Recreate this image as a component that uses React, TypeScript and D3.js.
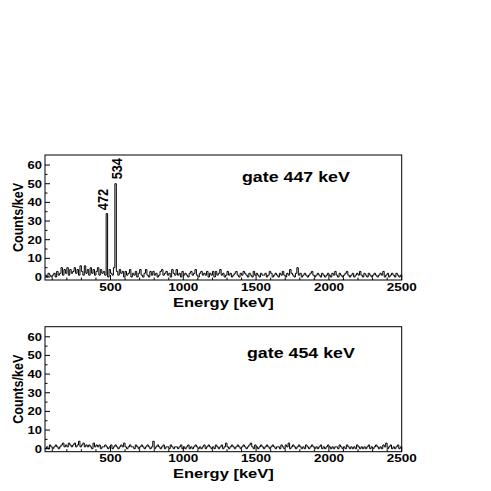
import React, { useEffect, useRef } from "react";
import * as d3 from "d3";

// gamma spectra gated on 447 and 454 keV, 10 keV bins from 50 to 2500 keV
const binStart = 50;
const binWidth = 10;

const gate447 = [
  1, 0, 2, 1, 0, 1, 2, 0, 3, 1,
  2, 5, 1, 4, 2, 5, 1, 4, 2, 3,
  5, 2, 4, 1, 6, 3, 1, 6, 2, 4,
  1, 5, 2, 4, 1, 3, 5, 1, 4, 2,
  3, 1, 34, 0, 4, 2, 1, 5, 50, 3,
  1, 4, 2, 3, 0, 3, 1, 2, 4, 0,
  2, 1, 3, 0, 2, 4, 1, 0, 2, 4,
  1, 0, 3, 1, 3, 1, 2, 0, 1, 3,
  4, 1, 2, 3, 1, 2, 0, 4, 2, 1,
  4, 1, 2, 0, 3, 1, 2, 1, 0, 2,
  3, 1, 2, 4, 1, 0, 2, 3, 1, 2,
  1, 3, 0, 2, 1, 3, 0, 3, 1, 2,
  4, 1, 2, 0, 1, 3, 1, 2, 0, 1,
  2, 3, 1, 0, 2, 1, 3, 2, 1, 0,
  2, 1, 0, 3, 1, 2, 1, 0, 2, 1,
  1, 2, 0, 1, 3, 2, 0, 1, 2, 1,
  0, 2, 1, 3, 1, 0, 2, 1, 4, 2,
  1, 0, 2, 5, 1, 2, 0, 1, 2, 1,
  0, 1, 2, 3, 1, 0, 1, 2, 1, 0,
  2, 1, 0, 1, 2, 1, 0, 2, 1, 3,
  1, 0, 2, 1, 0, 1, 2, 3, 1, 0,
  1, 2, 0, 1, 2, 1, 3, 1, 0, 2,
  1, 0, 2, 1, 0, 1, 2, 1, 0, 1,
  2, 1, 3, 0, 1, 2, 0, 1, 2, 1,
  0, 2, 1, 0, 1,
];

const gate454 = [
  0, 1, 0, 2, 1, 0, 1, 2, 1, 0,
  1, 2, 3, 1, 2, 1, 3, 2, 1, 2,
  3, 1, 2, 4, 1, 2, 3, 1, 2, 1,
  2, 1, 0, 3, 1, 2, 1, 2, 0, 1,
  1, 2, 1, 0, 1, 2, 0, 1, 2, 1,
  0, 1, 2, 1, 3, 1, 0, 1, 2, 1,
  1, 0, 2, 1, 0, 1, 2, 1, 0, 1,
  2, 1, 0, 1, 4, 0, 1, 2, 1, 0,
  1, 2, 0, 1, 1, 0, 2, 1, 0, 1,
  1, 0, 1, 2, 0, 1, 0, 1, 2, 0,
  1, 0, 1, 2, 1, 0, 1, 0, 1, 2,
  0, 1, 2, 1, 0, 1, 0, 2, 1, 0,
  1, 2, 0, 1, 3, 1, 0, 1, 2, 1,
  0, 1, 2, 1, 0, 1, 2, 1, 0, 1,
  2, 3, 1, 0, 2, 1, 0, 1, 2, 1,
  0, 1, 2, 1, 0, 1, 2, 1, 0, 1,
  1, 0, 2, 1, 0, 2, 1, 3, 0, 1,
  2, 1, 0, 1, 2, 1, 0, 1, 0, 2,
  1, 0, 1, 2, 1, 0, 1, 0, 1, 2,
  0, 1, 0, 1, 2, 1, 0, 1, 0, 1,
  1, 0, 2, 1, 0, 1, 0, 2, 1, 0,
  1, 0, 1, 0, 2, 1, 0, 1, 0, 1,
  0, 1, 2, 0, 1, 0, 1, 2, 1, 0,
  1, 0, 2, 1, 3, 0, 1, 2, 0, 1,
  0, 1, 2, 0, 1,
];

const xTicks = [500, 1000, 1500, 2000, 2500];
const yTicks = [0, 10, 20, 30, 40, 50, 60];
const gateLabels = ["gate 447 keV", "gate 454 keV"];
const peakLabels = ["472", "534"];
const peakEnergies = [472, 534];

const FONT = "'Liberation Sans', Arial, Helvetica, sans-serif";

const App = () => {
  const svgRef = useRef<SVGSVGElement>(null);

  useEffect(() => {
    const svg = d3.select(svgRef.current);
    svg.selectAll("*").remove();

    const left = 45;
    const right = 401.7;
    const panelH = 125;
    const panelTops = [155, 326.7];

    const x = d3.scaleLinear().domain([50, 2500]).range([left, right]);

    const drawPanel = (top: number, counts: number[], idx: number) => {
      const y = d3.scaleLinear().domain([-1.6, 65.4]).range([top + panelH, top]);
      const g = svg.append("g");

      // clip for the histogram
      const clipId = `clip${idx}`;
      svg
        .append("clipPath")
        .attr("id", clipId)
        .append("rect")
        .attr("x", left)
        .attr("y", top)
        .attr("width", right - left)
        .attr("height", panelH);

      // histogram as step line
      const pts: [number, number][] = counts.map((c, i) => [binStart + i * binWidth, c]);
      pts.push([binStart + counts.length * binWidth, counts[counts.length - 1]]);
      const line = d3
        .line<[number, number]>()
        .x((d) => x(d[0]))
        .y((d) => y(d[1]))
        .curve(d3.curveStepAfter);
      g.append("path")
        .attr("d", line(pts))
        .attr("fill", "none")
        .attr("stroke", "#000")
        .attr("stroke-width", 1)
        .attr("clip-path", `url(#${clipId})`);

      // frame
      g.append("rect")
        .attr("x", left)
        .attr("y", top)
        .attr("width", right - left)
        .attr("height", panelH)
        .attr("fill", "none")
        .attr("stroke", "#000")
        .attr("stroke-width", 1);

      // y ticks (inside)
      d3.range(0, 65, 5).forEach((v) => {
        const major = v % 10 === 0;
        g.append("line")
          .attr("x1", left)
          .attr("x2", left + (major ? 5 : 2.5))
          .attr("y1", y(v))
          .attr("y2", y(v))
          .attr("stroke", "#000");
      });
      yTicks.forEach((v) => {
        g.append("text")
          .attr("transform", `translate(${left - 3},${y(v) + 3.8}) scale(1,0.82)`)
          .attr("text-anchor", "end")
          .style("font-family", FONT)
          .style("font-weight", "bold")
          .style("font-size", "13px")
          .text(v);
      });

      // x ticks (inside)
      d3.range(100, 2501, 100).forEach((v) => {
        const major = v % 500 === 0;
        g.append("line")
          .attr("x1", x(v))
          .attr("x2", x(v))
          .attr("y1", top + panelH)
          .attr("y2", top + panelH - (major ? 5 : 2.5))
          .attr("stroke", "#000");
      });
      xTicks.forEach((v) => {
        g.append("text")
          .attr("transform", `translate(${x(v)},${top + panelH + 10.5}) scale(1,0.8)`)
          .attr("text-anchor", "middle")
          .style("font-family", FONT)
          .style("font-weight", "bold")
          .style("font-size", "13.5px")
          .text(v);
      });

      // axis titles
      g.append("text")
        .attr("transform", `translate(${(left + right) / 2},${top + panelH + 26.5}) scale(1,0.78)`)
        .attr("text-anchor", "middle")
        .style("font-family", FONT)
        .style("font-weight", "bold")
        .style("font-size", "16.5px")
        .text("Energy [keV]");

      g.append("text")
        .attr("transform", `translate(22.5,${top + panelH / 2}) rotate(-90) scale(0.9,1)`)
        .attr("text-anchor", "middle")
        .style("font-family", FONT)
        .style("font-weight", "bold")
        .style("font-size", "14px")
        .text("Counts/keV");

      // gate label
      g.append("text")
        .attr("transform", `translate(${idx === 0 ? 242 : 247},${top + (idx === 0 ? 26.7 : 31.6)}) scale(1,0.79)`)
        .style("font-family", FONT)
        .style("font-weight", "bold")
        .style("font-size", "17.8px")
        .text(gateLabels[idx]);

      return y;
    };

    const yTop = drawPanel(panelTops[0], gate447, 0);
    drawPanel(panelTops[1], gate454, 1);

    // peak labels on the 447 keV gate
    const dxs = [-4.5, 0.7];
    const gaps = [3.4, 4.4];
    peakLabels.forEach((lab, i) => {
      const bin = Math.floor((peakEnergies[i] - binStart) / binWidth);
      const xc = x(binStart + (bin + 0.5) * binWidth) + dxs[i];
      const len = 3 * 0.556 * 15 * 0.85;
      const yc = yTop(gate447[bin]) - gaps[i] - len / 2;
      svg
        .append("text")
        .attr("transform", `translate(${xc + 5.4},${yc}) rotate(-90) scale(0.85,1)`)
        .attr("text-anchor", "middle")
        .style("font-family", FONT)
        .style("font-weight", "bold")
        .style("font-size", "15px")
        .text(lab);
    });
  }, []);

  return (
    <svg
      ref={svgRef}
      width={491}
      height={491}
      style={{ position: "absolute", left: 0, top: 0, background: "#fff" }}
    ></svg>
  );
};

export default App;
